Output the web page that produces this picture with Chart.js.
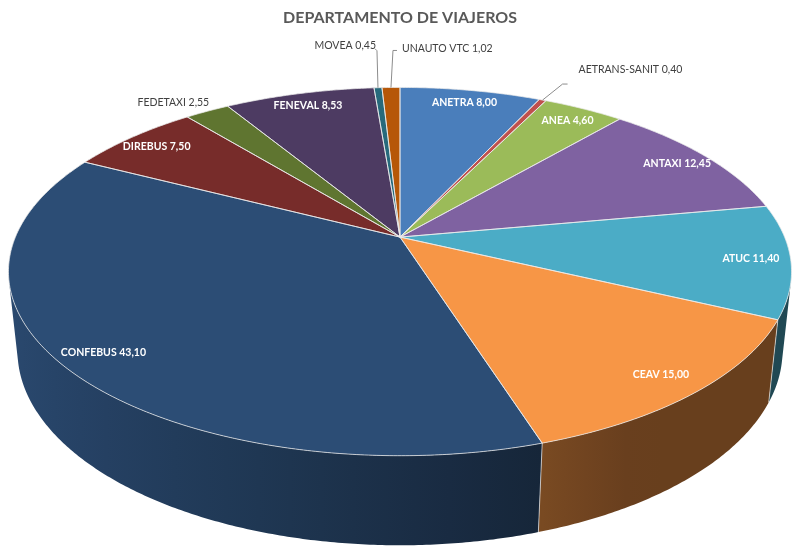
<!DOCTYPE html>
<html>
<head>
<meta charset="utf-8">
<title>Departamento de viajeros</title>
<script src="https://cdn.jsdelivr.net/npm/chart.js@4.4.1/dist/chart.umd.min.js"></script>
<style>
  html, body { margin: 0; padding: 0; background: #fff; }
  #box { width: 800px; height: 553px; }
</style>
</head>
<body>
<div id="box"><canvas id="viajeros" width="800" height="553"></canvas></div>
<script>
// data
const categories = ['ANETRA', 'AETRANS-SANIT', 'ANEA', 'ANTAXI', 'ATUC', 'CEAV',
                    'CONFEBUS', 'DIREBUS', 'FEDETAXI', 'FENEVAL', 'MOVEA', 'UNAUTO VTC'];
const values = [8.00, 0.40, 4.60, 12.45, 11.40, 15.00, 43.10, 7.50, 2.55, 8.53, 0.45, 1.02];
const sliceColors = ['#4a7ebb', '#c0504d', '#9bbb59', '#7f62a1', '#4bacc6', '#f79646',
                     '#2c4d75', '#772c2a', '#5f7530', '#4d3b62', '#276a7c', '#b65708'];
const chartTitle = 'DEPARTAMENTO DE VIAJEROS';

// 3d look of the pie (camera tilt, perspective, thickness)
const tiltSin = 0.462, tiltCos = 0.887;
const camDist = 4.74;          // in pie radii
const thickness = 0.234;       // in pie radii
const spread = 1.905;          // screen scale relative to chart.js radius
const labelRadius = 0.9;

// small slices get their label outside, with a leader line
const outsideLabels = {
  'AETRANS-SANIT': { dx: 36, dy: -30, align: 'left',  leader: [[20, -16], [25, -16]] },
  'FEDETAXI':      { dx: 2,  dy: -9,  align: 'right', leader: null },
  'MOVEA':         { dx: -2, dy: -42, align: 'right', leader: [[-1, -37], [-3, -39]] },
  'UNAUTO VTC':    { dx: 11, dy: -39, align: 'left',  leader: [[2, -37], [6, -37]] }
};

const fmt = v => v.toFixed(2).replace('.', ',');

function hexRgb(h) {
  const n = parseInt(h.slice(1), 16);
  return [(n >> 16) & 255, (n >> 8) & 255, n & 255];
}
function shade(h, f) {
  const c = hexRgb(h).map(x => Math.round(Math.min(255, x * f)));
  return `rgb(${c[0]},${c[1]},${c[2]})`;
}

function makeProjector(arc) {
  const a = arc.outerRadius * spread;
  const ky = tiltCos / camDist, kz = tiltSin / camDist;
  // t: clockwise angle from the top (back of the pie), r: radius fraction, z: height
  return (t, r, z) => {
    const X = Math.sin(t) * r, Y = -Math.cos(t) * r;
    const w = 1 - ky * Y - kz * z;
    return { x: arc.x + a * X / w, y: arc.y + a * (Y * tiltSin - z * tiltCos) / w };
  };
}

const pie3d = {
  id: 'pie3d',
  beforeDatasetDraw() {
    return false; // we draw the arcs ourselves, in perspective
  },
  afterDatasetsDraw(chart) {
    const ctx = chart.ctx;
    const arcs = chart.getDatasetMeta(0).data;
    const proj = makeProjector(arcs[0]);
    const toT = ang => ang + Math.PI / 2;
    const step = Math.PI / 360;

    // visible part of the outer wall
    const lim = Math.acos(-1 / (camDist * tiltCos));
    const tMin = lim, tMax = 2 * Math.PI - lim;

    ctx.save();
    // outer wall
    arcs.forEach((arc, i) => {
      const t1 = Math.max(toT(arc.startAngle), tMin);
      const t2 = Math.min(toT(arc.endAngle), tMax);
      if (t2 <= t1) return;
      ctx.beginPath();
      for (let t = t1; t < t2; t += step) {
        const p = proj(t, 1, 0);
        t === t1 ? ctx.moveTo(p.x, p.y) : ctx.lineTo(p.x, p.y);
      }
      let p = proj(t2, 1, 0);
      ctx.lineTo(p.x, p.y);
      for (let t = t2; t > t1; t -= step) {
        p = proj(t, 1, -thickness);
        ctx.lineTo(p.x, p.y);
      }
      p = proj(t1, 1, -thickness);
      ctx.lineTo(p.x, p.y);
      ctx.closePath();

      const x1 = proj(t1, 1, 0).x, x2 = proj(t2, 1, 0).x;
      const g = ctx.createLinearGradient(x1, 0, x2, 0);
      const n = 8;
      for (let k = 0; k <= n; k++) {
        const t = t1 + (t2 - t1) * k / n;
        const X = Math.sin(t);
        const f = Math.max(0.42, Math.min(1, 0.6 - 0.36 * X));
        const pos = x2 === x1 ? 0 : (proj(t, 1, 0).x - x1) / (x2 - x1);
        g.addColorStop(Math.max(0, Math.min(1, pos)), shade(sliceColors[i], f));
      }
      ctx.fillStyle = g;
      ctx.fill();
    });

    // seams on the wall
    ctx.strokeStyle = 'rgba(255,255,255,0.6)';
    ctx.lineWidth = 1;
    arcs.forEach(arc => {
      const t = toT(arc.startAngle);
      if (t > tMin && t < tMax) {
        const a = proj(t, 1, 0), b = proj(t, 1, -thickness);
        ctx.beginPath();
        ctx.moveTo(a.x, a.y);
        ctx.lineTo(b.x, b.y);
        ctx.stroke();
      }
    });

    // top faces
    const apex = proj(0, 0, 0);
    arcs.forEach((arc, i) => {
      const t1 = toT(arc.startAngle), t2 = toT(arc.endAngle);
      ctx.beginPath();
      ctx.moveTo(apex.x, apex.y);
      for (let t = t1; t < t2; t += step) {
        const p = proj(t, 1, 0);
        ctx.lineTo(p.x, p.y);
      }
      const p = proj(t2, 1, 0);
      ctx.lineTo(p.x, p.y);
      ctx.closePath();
      ctx.fillStyle = sliceColors[i];
      ctx.fill();
    });
    arcs.forEach(arc => {
      const t1 = toT(arc.startAngle), t2 = toT(arc.endAngle);
      ctx.beginPath();
      ctx.moveTo(apex.x, apex.y);
      for (let t = t1; t < t2; t += step) {
        const p = proj(t, 1, 0);
        ctx.lineTo(p.x, p.y);
      }
      const p = proj(t2, 1, 0);
      ctx.lineTo(p.x, p.y);
      ctx.closePath();
      ctx.strokeStyle = 'rgba(235,235,235,0.75)';
      ctx.lineWidth = 1;
      ctx.stroke();
    });

    // data labels
    ctx.textBaseline = 'middle';
    arcs.forEach((arc, i) => {
      const mid = toT((arc.startAngle + arc.endAngle) / 2);
      const text = categories[i] + ' ' + fmt(values[i]);
      const out = outsideLabels[categories[i]];
      if (out) {
        const e = proj(mid, 1, 0);
        if (out.leader) {
          ctx.beginPath();
          ctx.moveTo(e.x, e.y);
          out.leader.forEach(([lx, ly]) => ctx.lineTo(e.x + lx, e.y + ly));
          ctx.strokeStyle = '#8c8c8c';
          ctx.lineWidth = 1;
          ctx.stroke();
        }
        ctx.font = '10.5px Lato';
        ctx.fillStyle = '#404040';
        ctx.textAlign = out.align;
        ctx.fillText(text, e.x + out.dx, e.y + out.dy);
      } else {
        const c = proj(mid, labelRadius, 0);
        ctx.font = 'bold 10.5px Lato';
        ctx.fillStyle = '#ffffff';
        ctx.textAlign = 'center';
        ctx.fillText(text, c.x, c.y);
      }
    });
    ctx.restore();
  }
};

new Chart(document.getElementById('viajeros'), {
  type: 'pie',
  data: {
    labels: categories,
    datasets: [{
      data: values,
      backgroundColor: sliceColors,
      borderWidth: 0
    }]
  },
  options: {
    responsive: false,
    animation: false,
    devicePixelRatio: 1,
    layout: { padding: { top: 0, bottom: 114 } },
    plugins: {
      legend: { display: false },
      tooltip: { enabled: false },
      title: {
        display: true,
        text: chartTitle,
        color: '#595959',
        font: { family: 'Lato', size: 16, weight: 'bold' },
        padding: { top: 8, bottom: 8 }
      }
    }
  },
  plugins: [pie3d]
});
</script>
</body>
</html>
